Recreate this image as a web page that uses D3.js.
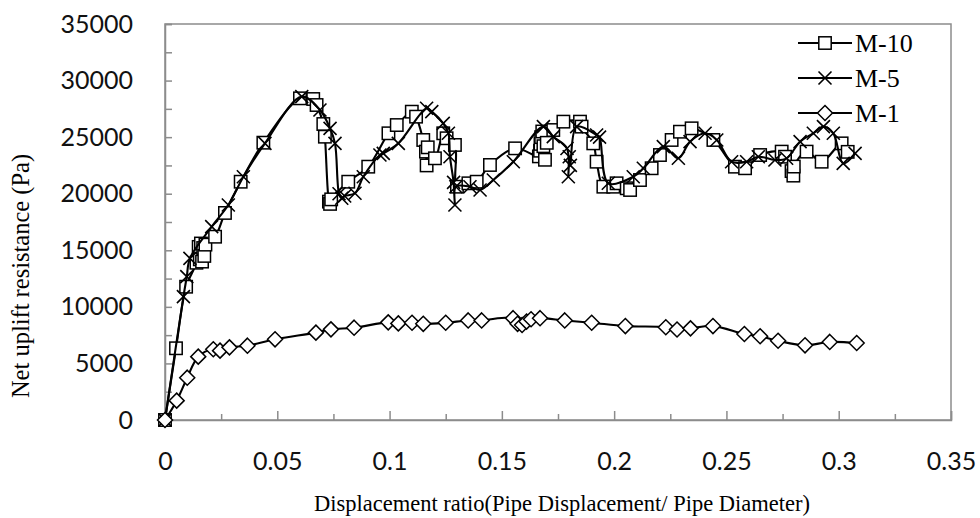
<!DOCTYPE html>
<html>
<head>
<meta charset="utf-8">
<script src="https://cdn.jsdelivr.net/npm/d3@7"></script>
<style>
  body { margin: 0; background: #fff; }
  svg { display: block; }
</style>
</head>
<body>
<div id="chart"></div>
<script>
// ---- data ----
let seriesNames = ["M-10", "M-5", "M-1"];

let m10 = [[0,0],[0.0049,6340],[0.0094,11780],[0.014,13900],[0.015,15300],[0.0155,14200],[0.016,15600],
    [0.0165,14000],[0.017,15200],[0.0175,14500],[0.018,15500],[0.0223,16200],[0.0267,18300],[0.0337,21060],
    [0.0438,24510],[0.0601,28430],[0.066,28370],[0.0675,27840],[0.0705,26160],[0.0712,25040],[0.073,19300],
    [0.0735,19100],[0.074,19500],[0.0816,21060],[0.0905,22390],[0.0995,25340],[0.1032,26070],[0.1099,27250],
    [0.1118,26810],[0.115,24750],[0.1162,23720],[0.1165,22500],[0.117,24100],[0.1202,23130],[0.1239,25340],
    [0.1254,24900],[0.1291,24310],[0.13,20620],[0.1351,20920],[0.1388,21060],[0.1447,22540],[0.1559,24010],
    [0.1665,23300],[0.167,23800],[0.1672,24400],[0.1675,25000],[0.168,25500],[0.1685,24200],[0.1692,23000],
    [0.17,24500],[0.1729,25630],[0.1774,26370],[0.1848,26370],[0.1855,25930],[0.1907,24450],[0.1922,22830],
    [0.1952,20620],[0.1996,20620],[0.2011,20920],[0.2056,20480],[0.2071,20330],[0.2115,21210],[0.2167,22250],
    [0.2204,23420],[0.2256,24750],[0.2293,25480],[0.2345,25780],[0.2442,24750],[0.2538,22390],[0.2583,22250],
    [0.265,23420],[0.2746,23720],[0.2761,23270],[0.279,22000],[0.2798,21600],[0.28,22400],[0.2857,23720],
    [0.2924,22830],[0.3013,24450],[0.304,23700]];

let m5 = [[0,0],[0.0082,10900],[0.0097,12670],[0.0111,14290],[0.0208,17090],[0.0282,19000],[0.0349,21500],
    [0.0445,24450],[0.0609,28580],[0.069,27400],[0.0735,25780],[0.0757,24450],[0.0775,20000],[0.0787,19600],
    [0.08,19800],[0.0846,20040],[0.0883,21500],[0.0957,23420],[0.0972,23570],[0.1039,24450],[0.1165,27550],
    [0.1188,27250],[0.1239,26220],[0.1262,25340],[0.1269,23270],[0.1285,21000],[0.1291,19000],[0.1295,20620],
    [0.1358,20620],[0.1403,20330],[0.1462,21210],[0.1551,22830],[0.1685,25930],[0.1729,25040],[0.179,24000],
    [0.1796,21500],[0.18,23270],[0.1805,22500],[0.1833,25930],[0.1922,25190],[0.1935,25000],[0.1974,20920],
    [0.2085,21500],[0.213,22250],[0.2219,24160],[0.2286,23130],[0.2338,24600],[0.2405,25340],[0.2457,24750],
    [0.2523,22830],[0.259,22830],[0.2642,23270],[0.2716,22980],[0.2768,23130],[0.2828,24600],[0.2887,25340],
    [0.2932,25930],[0.2976,25340],[0.302,22680],[0.3073,23570]];

let m1 = [[0,0],[0.0052,1710],[0.0099,3740],[0.0148,5600],[0.0215,6250],[0.0245,6130],[0.0287,6420],
    [0.0367,6570],[0.049,7130],[0.0672,7720],[0.0739,8010],[0.0842,8160],[0.0994,8630],[0.1039,8540],
    [0.11,8600],[0.115,8500],[0.125,8600],[0.135,8800],[0.141,8800],[0.155,9000],[0.157,8500],[0.159,8400],
    [0.161,8700],[0.163,8900],[0.167,9000],[0.178,8800],[0.19,8600],[0.205,8300],[0.223,8200],[0.228,8000],
    [0.234,8100],[0.244,8300],[0.258,7600],[0.265,7400],[0.273,7000],[0.285,6600],[0.296,6900],[0.308,6800]];

let xTicks = [0, 0.05, 0.1, 0.15, 0.2, 0.25, 0.3, 0.35];
let yTicks = [0, 5000, 10000, 15000, 20000, 25000, 30000, 35000];

// ---- layout ----
let width = 980, height = 518;
let margin = {left: 165, right: 29, top: 24, bottom: 98};
let plotW = width - margin.left - margin.right;
let plotH = height - margin.top - margin.bottom;
let axisGrey = "#8c8c8c";

let svg = d3.select("#chart").append("svg")
    .attr("width", width)
    .attr("height", height);

let g = svg.append("g")
    .attr("transform", "translate(" + margin.left + "," + margin.top + ")");

let x = d3.scaleLinear().domain([0, 0.35]).range([0, plotW]);
let y = d3.scaleLinear().domain([0, 35000]).range([plotH, 0]);

// frame
g.append("rect")
    .attr("width", plotW)
    .attr("height", plotH)
    .attr("fill", "none")
    .attr("stroke", axisGrey)
    .attr("stroke-width", 1.5);

// y axis (ticks pointing inside, every 2500)
let yAxis = g.append("g")
    .call(d3.axisLeft(y).tickValues(d3.range(0, 35001, 2500)).tickSize(-7).tickPadding(32)
        .tickFormat(d => yTicks.includes(d) ? d : ""));
yAxis.selectAll("line").attr("stroke", axisGrey).attr("stroke-width", 1.5);
yAxis.select(".domain").attr("stroke", axisGrey).attr("stroke-width", 1.5);
yAxis.selectAll("text")
    .attr("font-family", "Lato, 'Open Sans', sans-serif")
    .attr("font-size", 25)
    .attr("fill", "#111");

// x axis minor ticks
let xMinor = g.append("g")
    .attr("transform", "translate(0," + plotH + ")")
    .call(d3.axisBottom(x).tickValues(d3.range(0.025, 0.35, 0.05)).tickSize(-6).tickFormat(""));
xMinor.selectAll("line").attr("stroke", axisGrey).attr("stroke-width", 1.5);
xMinor.select(".domain").remove();

// x axis major
let xAxis = g.append("g")
    .attr("transform", "translate(0," + plotH + ")")
    .call(d3.axisBottom(x).tickValues(xTicks).tickSize(-9).tickPadding(0)
        .tickFormat(d => String(+d.toFixed(2))));
xAxis.selectAll("line").attr("stroke", axisGrey).attr("stroke-width", 1.5);
xAxis.select(".domain").attr("stroke", axisGrey).attr("stroke-width", 1.5);
xAxis.selectAll("text")
    .attr("y", 41)
    .attr("dy", "0.35em")
    .attr("font-family", "Lato, 'Open Sans', sans-serif")
    .attr("font-size", 25)
    .attr("fill", "#111");

// axis titles
svg.append("text")
    .attr("x", 562)
    .attr("y", 503)
    .attr("dy", "0.35em")
    .attr("text-anchor", "middle")
    .attr("font-family", "'Liberation Serif', 'Times New Roman', serif")
    .attr("font-size", 22.5)
    .text("Displacement ratio(Pipe Displacement/ Pipe Diameter)");

svg.append("text")
    .attr("transform", "translate(20,276) rotate(-90)")
    .attr("dy", "0.35em")
    .attr("text-anchor", "middle")
    .attr("font-family", "'Liberation Serif', 'Times New Roman', serif")
    .attr("font-size", 24.5)
    .text("Net uplift resistance (Pa)");

// ---- series ----
let line = d3.line()
    .x(d => x(d[0]))
    .y(d => y(d[1]))
    .curve(d3.curveCatmullRom.alpha(0.5));

function drawMarker(sel, type) {
    if (type === "square") {
        sel.append("rect")
            .attr("x", -6.2).attr("y", -6.2)
            .attr("width", 12.4).attr("height", 12.4)
            .attr("fill", "#fff").attr("stroke", "#000").attr("stroke-width", 1.5);
    } else if (type === "cross") {
        sel.append("path")
            .attr("d", "M-6.5,-6.5L6.5,6.5M-6.5,6.5L6.5,-6.5")
            .attr("stroke", "#000").attr("stroke-width", 1.6);
    } else {
        sel.append("path")
            .attr("d", "M0,-7.5L7.5,0L0,7.5L-7.5,0Z")
            .attr("fill", "#fff").attr("stroke", "#000").attr("stroke-width", 1.5);
    }
}

let series = [
    {name: seriesNames[0], data: m10, marker: "square"},
    {name: seriesNames[1], data: m5, marker: "cross"},
    {name: seriesNames[2], data: m1, marker: "diamond"}
];

series.forEach(function (s) {
    g.append("path")
        .datum(s.data)
        .attr("fill", "none")
        .attr("stroke", "#000")
        .attr("stroke-width", 2.1)
        .attr("d", line);

    g.selectAll(".pt-" + s.marker)
        .data(s.data)
        .enter()
        .append("g")
        .attr("class", "pt-" + s.marker)
        .attr("transform", d => "translate(" + x(d[0]) + "," + y(d[1]) + ")")
        .each(function () { drawMarker(d3.select(this), s.marker); });
});

// ---- legend ----
let legend = svg.append("g").attr("transform", "translate(798,0)");
series.forEach(function (s, i) {
    let ly = 43 + i * 35;
    let item = legend.append("g").attr("transform", "translate(0," + ly + ")");
    item.append("line")
        .attr("x1", 0).attr("x2", 54)
        .attr("stroke", "#000").attr("stroke-width", 2.1);
    let m = item.append("g").attr("transform", "translate(27,0)");
    drawMarker(m, s.marker);
    item.append("text")
        .attr("x", 57)
        .attr("dy", "0.35em")
        .attr("font-family", "'Liberation Serif', 'Times New Roman', serif")
        .attr("font-size", 26)
        .text(s.name);
});
</script>
</body>
</html>
